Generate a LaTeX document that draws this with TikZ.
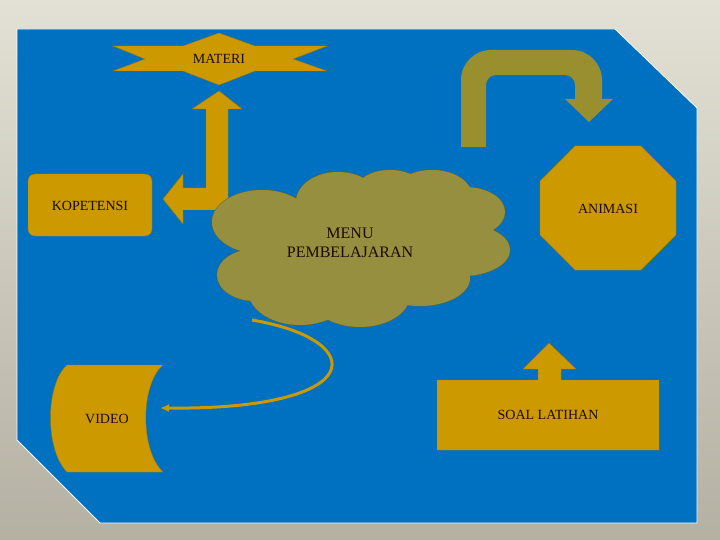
\documentclass[tikz,border=0pt]{standalone}
\usepackage{fontspec}
\usetikzlibrary{arrows.meta}
\setmainfont{Liberation Serif}
\definecolor{bgtop}{HTML}{E3E0D5}
\definecolor{bgbot}{HTML}{B4B0A2}
\definecolor{panel}{HTML}{0070C0}
\definecolor{gold}{HTML}{CC9900}
\definecolor{olive}{HTML}{958F3F}
\definecolor{olivearr}{HTML}{9A8F2E}
\definecolor{txt}{HTML}{1A0A00}
\begin{document}
\begin{tikzpicture}[x=1pt,y=-1pt,
  lbl/.style={font=\fontsize{14}{16}\selectfont, text=txt, align=center},
  goldshape/.style={fill=gold, draw=gold!80!black, line width=0.4pt}]
\useasboundingbox (0,0) rectangle (720,540);
\shade[top color=bgtop, bottom color=bgbot] (0,0) rectangle (720,540);
\fill[panel, draw=white, line width=0.8pt] (17,29) -- (615,29) -- (697,108) -- (697,523) -- (100,523) -- (17,440) -- cycle;
% MATERI
\fill[goldshape] (113,46) -- (183,46) -- (219,33) -- (255,46) -- (327,46) -- (293,59) -- (327,71) -- (255,71) -- (219,85) -- (183,71) -- (113,71) -- (145,59) -- cycle;
\node[lbl] (materi) at (219,59) {MATERI};
% bent arrow
\fill[goldshape] (219,91) -- (242,109) -- (228,109) -- (228,210) -- (183,210) -- (183,224) -- (163,199) -- (183,174) -- (183,188) -- (206,188) -- (206,109) -- (192,109) -- cycle;
% KOPETENSI
\fill[goldshape, rounded corners=7] (28,174) rectangle (152,236);
\node[lbl] (kop) at (90,206) {KOPETENSI};
% cloud
\def\cloudpath{
  (262,222) circle[x radius=50, y radius=32]
  (255,275) circle[x radius=38, y radius=26]
  (300,290) circle[x radius=52, y radius=35]
  (360,295) circle[x radius=50, y radius=32]
  (420,278) circle[x radius=50, y radius=28]
  (462,250) circle[x radius=48, y radius=26]
  (465,212) circle[x radius=40, y radius=25]
  (432,196) circle[x radius=40, y radius=26]
  (390,192) circle[x radius=35, y radius=22]
  (338,202) circle[x radius=42, y radius=30]}
\draw[olive!70!black, line width=1pt] \cloudpath;
\fill[olive] \cloudpath;
\fill[olive] (265,210) rectangle (462,276);
\node[lbl, font=\fontsize{16}{19}\selectfont] (menu) at (350,243) {MENU\\PEMBELAJARAN};
% curved arrow to video
\coordinate (cs) at (252,320);
\draw[gold, line width=3pt, -{Latex[length=9pt,width=8pt]}] (cs) .. controls (370,340) and (370,410) .. (160,408);
% VIDEO
\fill[goldshape] (67,365) -- (163,365) .. controls (140,385) and (140,450) .. (163,472) -- (67,472) .. controls (45,450) and (45,385) .. (67,365) -- cycle;
\node[lbl] (video) at (107,419) {VIDEO};
% U-turn arrow
\fill[olivearr] (461,147) -- (461,80) arc[start angle=180, end angle=270, radius=30] -- (572,50) arc[start angle=270, end angle=360, radius=30] -- (602,99) -- (613,99) -- (589,122) -- (565,99) -- (575,99) -- (575,85) arc[start angle=0, end angle=-90, radius=10] -- (496,75) arc[start angle=-90, end angle=-180, radius=10] -- (486,147) -- cycle;
% ANIMASI octagon
\fill[goldshape] (575,146) -- (641,146) -- (676,181) -- (676,235) -- (641,270) -- (575,270) -- (540,235) -- (540,181) -- cycle;
\node[lbl] (anim) at (608,209) {ANIMASI};
% SOAL LATIHAN
\fill[goldshape] (549,343) -- (576,369) -- (561,369) -- (561,380) -- (659,380) -- (659,450) -- (437,450) -- (437,380) -- (538,380) -- (538,369) -- (523,369) -- cycle;
\node[lbl] (soal) at (548,415) {SOAL LATIHAN};
\end{tikzpicture}
\end{document}
